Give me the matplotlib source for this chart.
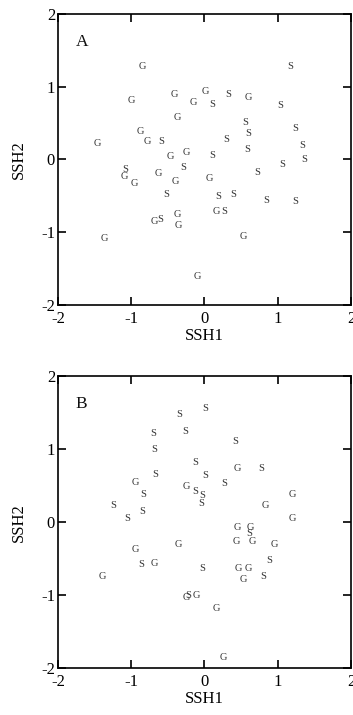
import matplotlib
matplotlib.use("Agg")
import matplotlib.pyplot as plt

# Panel A data
a_labels = ["G","S","G","G","G","G","S","S","G","S",
            "G","S","G","S","S","G","G","S","S","S",
            "S","G","G","S","S","S","S","S","G","G",
            "G","G","G","S","S","S","S","S","S","G",
            "S","G","G","G","S","G","G","G"]
a_x = [-0.85, 1.17, -1.00, -0.41, -0.15, 0.01, 0.11, 0.33, 0.60, 1.04,
       -0.37, 0.56, -0.87, 0.60, 1.24, -1.46, -0.78, -0.59, 0.30, 0.59,
       1.34, -0.25, -0.46, 0.11, 1.06, 1.36, -0.29, -1.08, -1.10, -0.95,
       -0.63, -0.40, 0.07, 0.72, -0.52, 0.19, 0.40, 0.85, 1.24, -0.68,
       -0.61, -0.37, -0.35, 0.16, 0.27, 0.53, -1.36, -0.10]
a_y = [1.27, 1.28, 0.81, 0.89, 0.78, 0.93, 0.75, 0.89, 0.85, 0.74,
       0.58, 0.51, 0.38, 0.36, 0.42, 0.22, 0.24, 0.24, 0.28, 0.14,
       0.19, 0.10, 0.04, 0.06, -0.07, 0.00, -0.11, -0.14, -0.23, -0.33,
       -0.19, -0.30, -0.26, -0.18, -0.48, -0.51, -0.48, -0.56, -0.57, -0.85,
       -0.82, -0.75, -0.90, -0.72, -0.72, -1.06, -1.09, -1.61]

# Panel B data
b_labels = ["S","S","S","S","S","S","S","S","S","G",
            "S","G","G","S","S","S","S","S","G","S",
            "S","G","S","G","G","G","S","G","G","G",
            "G","G","S","S","G","S","G","G","S","G",
            "G","G","S","G","G","G"]
b_x = [-0.35, 0.01, -0.70, -0.26, -0.68, 0.42, -0.12, -0.67, 0.01, 0.45,
       0.78, -0.94, -0.25, -0.12, -0.03, -0.05, 0.27, -0.83, 1.20, -1.24,
       -0.85, 0.83, -1.06, 1.20, 0.45, 0.63, 0.61, 0.44, 0.65, 0.95,
       -0.35, -0.94, 0.89, -0.86, -0.68, -0.03, 0.46, 0.60, 0.80, 0.53,
       -1.39, -0.25, -0.22, -0.11, 0.16, 0.26]
b_y = [1.47, 1.56, 1.22, 1.25, 1.00, 1.11, 0.82, 0.66, 0.64, 0.74,
       0.73, 0.55, 0.49, 0.42, 0.36, 0.26, 0.53, 0.38, 0.38, 0.23,
       0.15, 0.23, 0.05, 0.05, -0.07, -0.07, -0.16, -0.26, -0.26, -0.30,
       -0.30, -0.38, -0.53, -0.58, -0.56, -0.63, -0.63, -0.64, -0.74, -0.79,
       -0.74, -1.03, -1.01, -1.01, -1.19, -1.86]

ticks = [-2, -1, 0, 1, 2]
tick_labels = ["-2", "-1", "0", "1", "2"]

serif = ["Liberation Serif", "DejaVu Serif"]

fig = plt.figure(figsize=(3.53, 7.15), dpi=100)
axA = fig.add_axes([0.164, 0.573, 0.830, 0.408])
axB = fig.add_axes([0.164, 0.0657, 0.830, 0.408])

for ax, labs, xs, ys, tag in [(axA, a_labels, a_x, a_y, "A"), (axB, b_labels, b_x, b_y, "B")]:
    ax.set_xlim(-2, 2)
    ax.set_ylim(-2, 2)
    for l, x, y in zip(labs, xs, ys):
        ax.text(x, y, l, ha="center", va="center", fontsize=7.5, family=serif, color="#333333")
    ax.text(0.06, 0.89, tag, transform=ax.transAxes, fontsize=12.5, family=serif, color="#111111")
    ax.set_xticks(ticks)
    ax.set_xticklabels(tick_labels, family=serif, fontsize=12)
    ax.set_yticks(ticks)
    ax.set_yticklabels(tick_labels, family=serif, fontsize=12)
    ax.tick_params(direction="in", length=6, width=1.2, top=True, right=True)
    ax.tick_params(axis="x", pad=4)
    ax.tick_params(axis="y", pad=2)
    for s in ax.spines.values():
        s.set_linewidth(1.2)
    ax.set_xlabel("SSH1", family=serif, fontsize=12, labelpad=1)
    ax.set_ylabel("SSH2", family=serif, fontsize=12, labelpad=10)

fig.savefig("out.png", dpi=100)
